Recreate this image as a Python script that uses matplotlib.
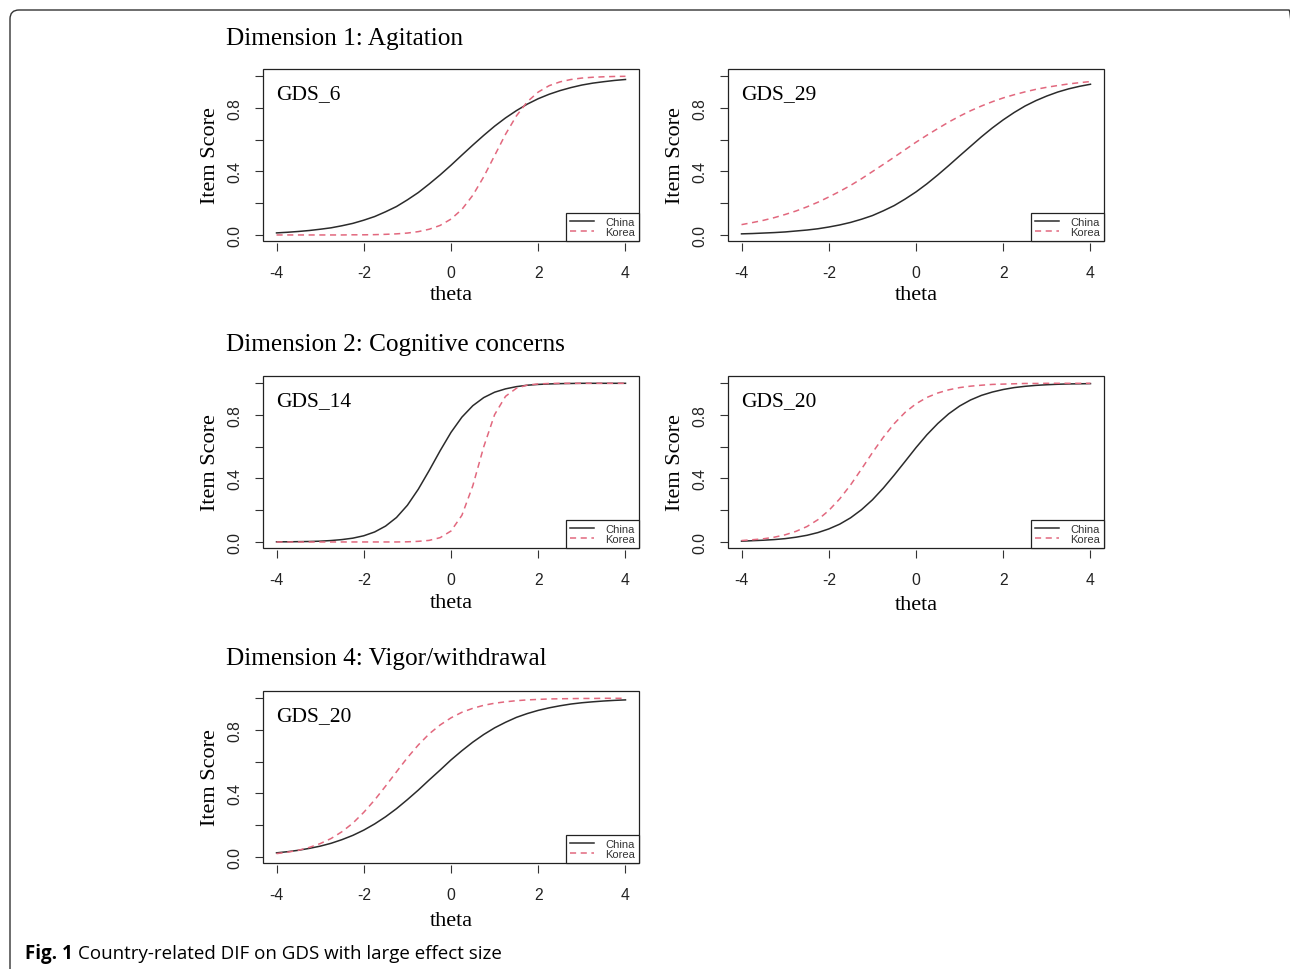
import matplotlib
matplotlib.use('Agg')
import matplotlib.pyplot as plt
from matplotlib.patches import Rectangle, FancyBboxPatch
from matplotlib.transforms import IdentityTransform

plt.rcParams['font.family'] = 'Liberation Sans'
plt.rcParams['axes.unicode_minus'] = False

# theta grid and item response curves
theta = [-4.0, -3.75, -3.5, -3.25, -3.0, -2.75, -2.5, -2.25, -2.0, -1.75, -1.5,
         -1.25, -1.0, -0.75, -0.5, -0.25, 0.0, 0.25, 0.5, 0.75, 1.0, 1.25, 1.5,
         1.75, 2.0, 2.25, 2.5, 2.75, 3.0, 3.25, 3.5, 3.75, 4.0]

gds6_china = [0.013, 0.017, 0.022, 0.028, 0.036, 0.045, 0.058, 0.073, 0.093, 0.116, 0.146,
              0.179, 0.221, 0.267, 0.321, 0.378, 0.439, 0.503, 0.566, 0.627, 0.685, 0.737,
              0.783, 0.824, 0.858, 0.886, 0.909, 0.928, 0.944, 0.956, 0.965, 0.973, 0.979]
gds6_korea = [0.000, 0.000, 0.000, 0.000, 0.000, 0.000, 0.000, 0.001, 0.001, 0.002, 0.004,
              0.007, 0.012, 0.021, 0.036, 0.060, 0.100, 0.161, 0.250, 0.366, 0.500, 0.634,
              0.750, 0.839, 0.900, 0.940, 0.964, 0.979, 0.988, 0.993, 0.996, 0.998, 0.999]

gds29_china = [0.007, 0.009, 0.012, 0.015, 0.019, 0.025, 0.031, 0.039, 0.050, 0.063, 0.079,
               0.099, 0.122, 0.152, 0.185, 0.226, 0.271, 0.322, 0.378, 0.437, 0.498, 0.558,
               0.618, 0.674, 0.725, 0.771, 0.812, 0.846, 0.875, 0.900, 0.920, 0.936, 0.949]
gds29_korea = [0.065, 0.078, 0.092, 0.109, 0.129, 0.151, 0.177, 0.206, 0.239, 0.274, 0.312,
               0.354, 0.399, 0.444, 0.490, 0.537, 0.584, 0.628, 0.670, 0.711, 0.748, 0.782,
               0.812, 0.839, 0.863, 0.883, 0.901, 0.917, 0.930, 0.941, 0.951, 0.959, 0.966]

gds14_china = [0.001, 0.001, 0.002, 0.003, 0.005, 0.009, 0.015, 0.024, 0.039, 0.063, 0.100,
               0.154, 0.231, 0.332, 0.450, 0.574, 0.690, 0.786, 0.858, 0.909, 0.943, 0.964,
               0.978, 0.987, 0.992, 0.995, 0.997, 0.998, 0.999, 0.999, 0.999, 0.999, 0.999]
gds14_korea = [0.000, 0.000, 0.000, 0.000, 0.000, 0.000, 0.000, 0.000, 0.000, 0.000, 0.000,
               0.000, 0.001, 0.004, 0.010, 0.027, 0.069, 0.168, 0.354, 0.599, 0.802, 0.917,
               0.968, 0.988, 0.995, 0.998, 0.999, 0.999, 0.999, 0.999, 0.999, 0.999, 0.999]

gds20_cog_china = [0.005, 0.008, 0.011, 0.015, 0.021, 0.030, 0.042, 0.059, 0.082, 0.112, 0.152,
                   0.203, 0.265, 0.339, 0.421, 0.507, 0.594, 0.675, 0.746, 0.807, 0.856, 0.894,
                   0.923, 0.944, 0.960, 0.972, 0.980, 0.986, 0.990, 0.993, 0.995, 0.996, 0.997]
gds20_cog_korea = [0.009, 0.014, 0.020, 0.030, 0.045, 0.067, 0.097, 0.140, 0.198, 0.271, 0.359,
                   0.459, 0.562, 0.659, 0.745, 0.816, 0.870, 0.910, 0.938, 0.958, 0.972, 0.981,
                   0.987, 0.992, 0.994, 0.996, 0.998, 0.998, 0.999, 0.999, 0.999, 0.999, 0.999]

gds20_vig_china = [0.026, 0.033, 0.042, 0.054, 0.068, 0.086, 0.109, 0.136, 0.169, 0.208, 0.253,
                   0.304, 0.361, 0.421, 0.485, 0.547, 0.611, 0.669, 0.723, 0.771, 0.813, 0.848,
                   0.879, 0.903, 0.923, 0.939, 0.952, 0.963, 0.971, 0.977, 0.982, 0.986, 0.989]
gds20_vig_korea = [0.021, 0.030, 0.042, 0.060, 0.084, 0.116, 0.159, 0.213, 0.281, 0.359, 0.446,
                   0.536, 0.625, 0.705, 0.775, 0.831, 0.876, 0.911, 0.936, 0.955, 0.968, 0.977,
                   0.984, 0.989, 0.992, 0.995, 0.996, 0.997, 0.998, 0.998, 0.999, 0.999, 0.999]

item_names = ['GDS_6', 'GDS_29', 'GDS_14', 'GDS_20', 'GDS_20']
china_curves = [gds6_china, gds29_china, gds14_china, gds20_cog_china, gds20_vig_china]
korea_curves = [gds6_korea, gds29_korea, gds14_korea, gds20_cog_korea, gds20_vig_korea]
section_titles = ['Dimension 1: Agitation', 'Dimension 2: Cognitive concerns',
                  'Dimension 4: Vigor/withdrawal']
x_ticks = [-4, -2, 0, 2, 4]
y_ticks = [0.0, 0.2, 0.4, 0.6, 0.8, 1.0]
y_ticklabels = ['0.0', '', '0.4', '', '0.8', '']
caption_bold = 'Fig. 1'
caption_text = 'Country-related DIF on GDS with large effect size'

W, H = 1290, 970
fig = plt.figure(figsize=(W / 100, H / 100), dpi=100)
fig.patch.set_facecolor('white')

# outer rounded frame (bottom edge runs off the page)
frame = FancyBboxPatch((10, -30), 1288, H - 11 + 30,
                       boxstyle='round,pad=0,rounding_size=9',
                       transform=IdentityTransform(), fill=False,
                       ec='#333333', lw=1.0)
fig.patches.append(frame)

# panel boxes in pixels: left, top; and offset of the 'theta' baseline
panel_pos = [(263, 70, 58), (728, 70, 58), (263, 377, 59), (728, 377, 61), (263, 692, 62)]
pw, ph = 376, 172

def px_axes(left, top):
    return fig.add_axes([left / W, 1 - (top + ph) / H, pw / W, ph / H])

for i, (left, top, xl_off) in enumerate(panel_pos):
    ax = px_axes(left, top)
    ax.plot(theta, china_curves[i], color='#2b2b2b', lw=1.1, label='China')
    ax.plot(theta, korea_curves[i], color='#e2687e', lw=1.1, dashes=(4, 3), label='Korea')
    ax.set_xlim(-4.31, 4.31)
    ax.set_ylim(-0.038, 1.045)
    for s in ax.spines.values():
        s.set_visible(False)
    ax.spines['bottom'].set_position(('outward', 1.5))
    ax.add_patch(Rectangle((0, 0), 1, 1, transform=ax.transAxes, fill=False,
                           lw=0.9, ec='#222222', clip_on=False, zorder=5))
    ax.set_xticks(x_ticks)
    ax.set_xticklabels([str(t) for t in x_ticks])
    ax.set_yticks(y_ticks)
    ax.set_yticklabels(y_ticklabels, rotation=90, va='center')
    ax.tick_params(axis='both', direction='out', length=5.5, width=0.8,
                   color='#333333', labelcolor='#222222', labelsize=11.3)
    ax.tick_params(axis='x', pad=10)
    ax.tick_params(axis='y', pad=9)

    ax.annotate(item_names[i], xy=(0, 1), xycoords='axes fraction',
                xytext=(13, -29), textcoords='offset pixels',
                family='Liberation Serif', fontsize=15.5, va='baseline', ha='left')
    ax.annotate('theta', xy=(0.5, 0), xycoords='axes fraction',
                xytext=(0, -xl_off), textcoords='offset pixels',
                family='Liberation Serif', fontsize=16, va='baseline', ha='center')
    ax.annotate('Item Score', xy=(0, 0.5), xycoords='axes fraction',
                xytext=(-48, 0), textcoords='offset pixels', rotation=90,
                rotation_mode='anchor', family='Liberation Serif', fontsize=16,
                va='baseline', ha='center')

    leg = ax.legend(loc='lower right', borderaxespad=0, fancybox=False,
                    edgecolor='#222222', framealpha=1, fontsize=8,
                    handlelength=2.2, handletextpad=1.0, borderpad=0.35,
                    labelspacing=0.0, labelcolor='#333333')
    leg.get_frame().set_linewidth(0.9)
    leg.set_zorder(6)

# section titles
for title, base in zip(section_titles, [45, 351, 665]):
    fig.text(226 / W, 1 - base / H, title, family='Liberation Serif',
             fontsize=18.2, va='baseline', ha='left')

# caption
r = fig.canvas.get_renderer()
t1 = fig.text(25 / W, 1 - 959 / H, caption_bold, family='Open Sans',
              fontweight='bold', fontsize=13.5, va='baseline')
bb = t1.get_window_extent(r)
fig.text((bb.x1 + 5) / W, 1 - 959 / H, caption_text, family='Open Sans',
         fontsize=13.5, va='baseline')

fig.savefig('out.png', dpi=100)
